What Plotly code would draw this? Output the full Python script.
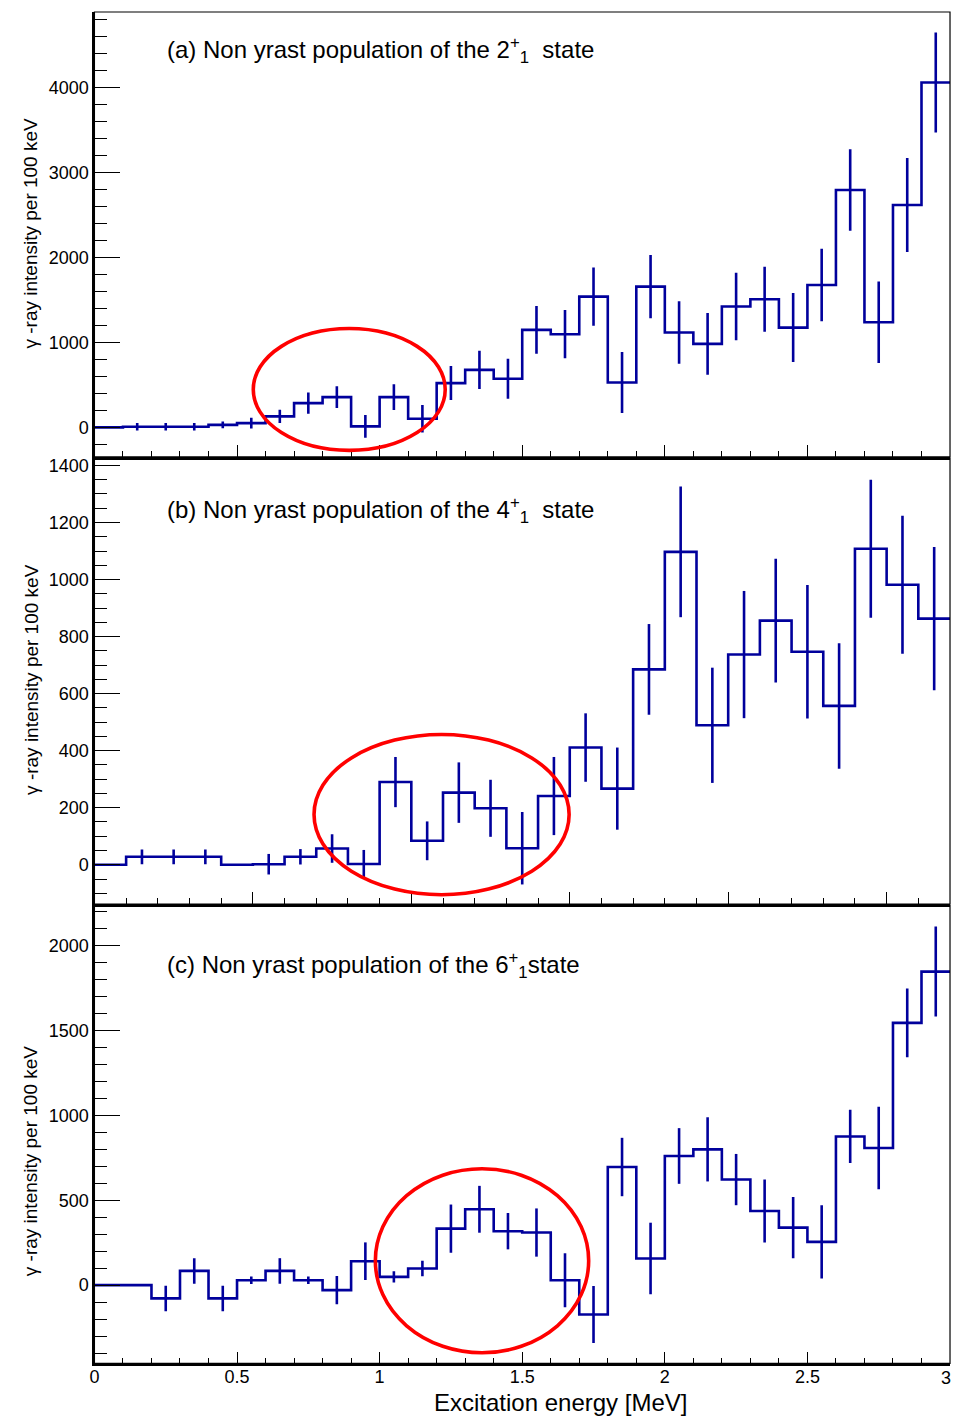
import plotly.graph_objects as go

# ---------------- data ----------------
bin_width = 0.1

# (a) 2+1 state, bins 0.0-3.0 MeV
vals_a = [0, 8, 8, 8, 30, 50, 130, 286, 357, 12,
          357, 102, 522, 678, 573, 1149, 1098, 1541, 529, 1659,
          1118, 984, 1424, 1510, 1176, 1678, 2796, 1239, 2620, 4063]
errs_a = [0, 45, 45, 45, 40, 63, 78, 124, 127, 133,
          151, 163, 200, 225, 235, 282, 284, 343, 359, 373,
          369, 363, 398, 382, 406, 427, 480, 480, 553, 588]

# (b) 4+1 state, bins 0.0-2.7 MeV
vals_b = [0, 28, 28, 28, 0, 2, 28, 57, 3, 290,
          84, 253, 198, 58, 241, 411, 267, 685, 1097, 489,
          737, 856, 747, 557, 1108, 982, 863]
errs_b = [0, 26, 26, 26, 0, 36, 27, 50, 49, 88,
          68, 106, 100, 127, 137, 120, 144, 159, 229, 202,
          223, 217, 234, 220, 242, 242, 251]

# (c) 6+1 state, bins 0.0-3.0 MeV
vals_c = [0, 0, -78, 84, -78, 29, 84, 29, -29, 141,
          49, 98, 333, 447, 318, 310, 29, -173, 696, 157,
          761, 800, 622, 437, 339, 255, 876, 808, 1545, 1847]
errs_c = [0, 0, 75, 75, 75, 22, 75, 22, 83, 111,
          33, 46, 142, 138, 107, 142, 159, 168, 172, 211,
          164, 189, 151, 186, 181, 216, 157, 243, 203, 265]

labels = [
    "(a) Non yrast population of the 2<sup>+</sup><sub>1</sub>  state",
    "(b) Non yrast population of the 4<sup>+</sup><sub>1</sub>  state",
    "(c) Non yrast population of the 6<sup>+</sup><sub>1</sub>state",
]
x_title = "Excitation energy [MeV]"
y_title = "γ -ray intensity per 100 keV"
x_tickvals = [0, 0.5, 1, 1.5, 2, 2.5, 3]
x_ticktext = ["0", "0.5", "1", "1.5", "2", "2.5", "3"]

# highlighted regions (data coords: x0, x1, y0, y1)
ellipses = [
    (0.557, 1.230, -271, 1165),
    (0.693, 1.498, -105, 457),
    (0.985, 1.733, -398, 686),
]

# ---------------- styling / layout ----------------
W, H = 953, 1419
BLUE = "#00009c"
FONT = "Liberation Sans, Arial, Helvetica, sans-serif"

panels = [
    dict(vals=vals_a, errs=errs_a, xr=[0, 3.0], yr=[-347, 4894], top=10, bot=455.5,
         ydt=1000, ymin=200, label_y=61),
    dict(vals=vals_b, errs=errs_b, xr=[0, 2.7], yr=[-137.6, 1425.6], top=456.8, bot=903.3,
         ydt=200, ymin=50, label_y=521.7),
    dict(vals=vals_c, errs=errs_c, xr=[0, 3.0], yr=[-460.6, 2235], top=905, bot=1363.3,
         ydt=500, ymin=100, label_y=977.3),
]
ytitle_centers = [231, 678, 1160]

x_left, x_right = 90, 951
x_domain = [x_left / W, x_right / W]
tickfont = dict(family=FONT, size=18, color="black")

fig = go.Figure()
annotations = []
shapes = []

for i, p in enumerate(panels):
    n = i + 1
    xa = "x" if n == 1 else f"x{n}"
    ya = "y" if n == 1 else f"y{n}"
    vals, errs = p["vals"], p["errs"]
    edges = [round(k * bin_width, 3) for k in range(len(vals) + 1)]
    centers = [round((k + 0.5) * bin_width, 3) for k in range(len(vals))]

    # histogram outline
    fig.add_trace(go.Scatter(
        x=edges, y=vals + [vals[-1]], mode="lines", line=dict(color=BLUE, width=2.6, shape="hv"),
        xaxis=xa, yaxis=ya, showlegend=False, hoverinfo="skip"))
    # error bars
    ex = [c for c, e in zip(centers, errs) if e > 0]
    ey = [v for v, e in zip(vals, errs) if e > 0]
    ee = [e for e in errs if e > 0]
    fig.add_trace(go.Scatter(
        x=ex, y=ey, mode="markers", marker=dict(size=1, color=BLUE),
        error_y=dict(type="data", array=ee, visible=True, width=0, thickness=2.6, color=BLUE),
        xaxis=xa, yaxis=ya, showlegend=False, hoverinfo="skip"))

    dom_y = [1 - p["bot"] / H, 1 - p["top"] / H]
    # last label ("3") is drawn by an overlay axis so it can sit at the right edge
    main_text = x_ticktext[:-1] + [""]
    axis_x = dict(domain=x_domain, range=p["xr"], showgrid=False, zeroline=False,
                  showline=True, linewidth=2.5, linecolor="black", mirror=False,
                  ticks="inside", ticklen=12, tickwidth=1.2, tickcolor="black",
                  tickvals=x_tickvals, ticktext=main_text,
                  minor=dict(ticks="inside", ticklen=6, tickwidth=1.2, tickcolor="black", dtick=0.1, tick0=0),
                  showticklabels=(n == 3), tickfont=tickfont,
                  ticklabelstandoff=-5,
                  anchor=ya, fixedrange=True)
    axis_y = dict(domain=dom_y, range=p["yr"], showgrid=False, zeroline=False,
                  showline=True, linewidth=2, linecolor="black", mirror=False,
                  ticks="inside", ticklen=26, tickwidth=1.2, tickcolor="black",
                  tick0=0, dtick=p["ydt"],
                  minor=dict(ticks="inside", ticklen=13, tickwidth=1.2, tickcolor="black", dtick=p["ymin"], tick0=0),
                  tickfont=tickfont,
                  anchor=xa, fixedrange=True)
    fig.layout[("xaxis" if n == 1 else f"xaxis{n}")] = axis_x
    fig.layout[("yaxis" if n == 1 else f"yaxis{n}")] = axis_y

    # thin frame (top/right)
    shapes.append(dict(type="rect", xref=f"{xa} domain", yref=f"{ya} domain", x0=0, x1=1, y0=0, y1=1,
                       line=dict(color="black", width=1.2), layer="above"))
    # red ellipse
    e = ellipses[i]
    shapes.append(dict(type="circle", xref=xa, yref=ya, x0=e[0], x1=e[1], y0=e[2], y1=e[3],
                       line=dict(color="#ff0000", width=3.6), layer="above"))

    # panel label
    annotations.append(dict(text=labels[i], xref="paper", yref="paper", x=161 / W, y=1 - p["label_y"] / H,
                            xanchor="left", yanchor="bottom", showarrow=False, yshift=-6,
                            font=dict(family=FONT, size=24, color="black")))
    # y title
    annotations.append(dict(text=y_title, xref="paper", yref="paper", x=26 / W, y=1 - ytitle_centers[i] / H,
                            xanchor="center", yanchor="middle", textangle=-90, showarrow=False,
                            font=dict(family=FONT, size=19, color="black")))

# overlay axis for the right-most x tick label of the bottom panel
fig.add_trace(go.Scatter(x=x_tickvals[-1:], y=[0], mode="markers", marker=dict(opacity=0, size=1),
                         xaxis="x4", yaxis="y3", showlegend=False, hoverinfo="skip"))
fig.layout["xaxis4"] = dict(domain=x_domain, range=panels[2]["xr"], overlaying="x3", anchor="y3",
                            showgrid=False, zeroline=False, showline=False, ticks="",
                            tickvals=x_tickvals[-1:], ticktext=x_ticktext[-1:],
                            tickfont=tickfont, ticklabelstandoff=2, ticklabelshift=-4,
                            fixedrange=True)

annotations.append(dict(text=x_title, xref="paper", yref="paper", x=559 / W, y=1 - 1402 / H,
                        xanchor="center", yanchor="middle", showarrow=False,
                        font=dict(family=FONT, size=24, color="black")))

fig.update_layout(width=W, height=H, margin=dict(l=0, r=0, t=0, b=0),
                  paper_bgcolor="white", plot_bgcolor="white",
                  annotations=annotations, shapes=shapes, showlegend=False)

post = "document.body.style.margin='0';document.body.style.overflow='hidden';"
fig.write_html("out.html", config={"displayModeBar": False}, post_script=post)
